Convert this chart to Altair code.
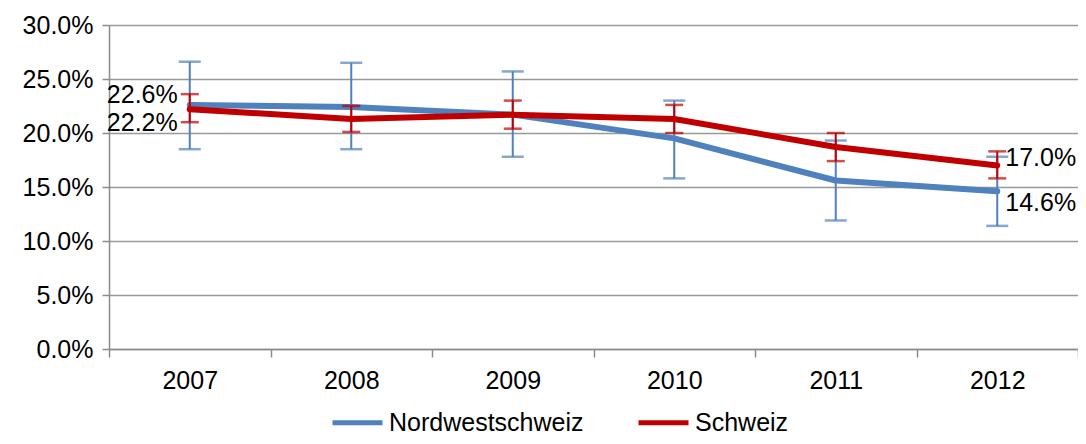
import altair as alt
import pandas as pd

years = ["2007", "2008", "2009", "2010", "2011", "2012"]
series_names = ["Nordwestschweiz", "Schweiz"]
nws_val = [22.6, 22.4, 21.7, 19.5, 15.6, 14.6]
nws_lo = [18.5, 18.5, 17.8, 15.8, 11.9, 11.4]
nws_hi = [26.6, 26.5, 25.7, 23.0, 19.3, 17.8]
ch_val = [22.2, 21.3, 21.7, 21.3, 18.7, 17.0]
ch_lo = [21.0, 20.1, 20.4, 20.0, 17.4, 15.8]
ch_hi = [23.6, 22.5, 23.0, 22.6, 20.0, 18.3]
colors = ["#4F81BD", "#C00000"]

rows = []
for name, vals, los, his in [
    (series_names[0], nws_val, nws_lo, nws_hi),
    (series_names[1], ch_val, ch_lo, ch_hi),
]:
    for y, v, lo, hi in zip(years, vals, los, his):
        rows.append({"series": name, "year": y, "value": v / 100,
                     "lo": lo / 100, "hi": hi / 100})
df = pd.DataFrame(rows)

FONT = "Liberation Sans"
FS = 25

xenc = alt.X(
    "year:O",
    bandPosition=0.5,
    scale=alt.Scale(type="band", paddingInner=0, paddingOuter=0),
    axis=alt.Axis(title=None, labelAngle=0, tickBand="extent", tickSize=8,
                  tickColor="#8c8c8c", tickWidth=1.5, domainColor="#8c8c8c",
                  domainWidth=1.5, labelFontSize=FS, labelFont=FONT,
                  labelColor="#000000", labelPadding=11, grid=False),
)
yenc = alt.Y(
    "value:Q",
    scale=alt.Scale(domain=[0, 0.3], nice=False),
    axis=alt.Axis(title=None, format=".1%", values=[0, 0.05, 0.1, 0.15, 0.2, 0.25, 0.3],
                  tickSize=7, tickColor="#8c8c8c", tickWidth=1.5,
                  domainColor="#8c8c8c", domainWidth=1.5, gridColor="#999999",
                  gridWidth=1.5, labelFontSize=FS, labelFont=FONT,
                  labelColor="#000000", labelPadding=9),
)
color_scale = alt.Scale(domain=series_names, range=colors)

layers = []
for i, name in enumerate(series_names):
    base = alt.Chart(df).transform_filter(alt.datum.series == name)
    line = base.mark_line(strokeWidth=6, strokeCap="round", strokeJoin="round").encode(
        x=xenc, y=yenc,
        color=alt.Color("series:N", scale=color_scale,
                        legend=alt.Legend(title=None) if i == 0 else None),
    )
    rule = base.mark_rule(strokeWidth=2, color=colors[i]).encode(
        x=alt.X("year:O", bandPosition=0.5), y="lo:Q", y2="hi:Q")
    cap_hi = base.mark_tick(size=22 if i == 0 else 18, thickness=2.5, color=colors[i]).encode(
        x=alt.X("year:O", bandPosition=0.5), y="hi:Q")
    cap_lo = base.mark_tick(size=22 if i == 0 else 18, thickness=2.5, color=colors[i]).encode(
        x=alt.X("year:O", bandPosition=0.5), y="lo:Q")
    layers += [line, rule, cap_hi, cap_lo]

def label(name, year, dx, dy, align):
    return alt.Chart(df).transform_filter(
        (alt.datum.series == name) & (alt.datum.year == year)
    ).mark_text(dx=dx, dy=dy, align=align, baseline="middle", fontSize=FS,
                font=FONT, color="#000000").encode(
        x=alt.X("year:O", bandPosition=0.5), y="value:Q",
        text=alt.Text("value:Q", format=".1%"))

layers += [
    label(series_names[0], "2007", -12, -10, "right"),
    label(series_names[1], "2007", -12, 14, "right"),
    label(series_names[1], "2012", 8, -7, "left"),
    label(series_names[0], "2012", 8, 12, "left"),
]

chart = alt.layer(*layers).properties(
    width=969, height=324,
    padding={"left": 101, "top": 17, "right": 0, "bottom": 87},
    autosize="none",
).configure_view(stroke=None).configure_legend(
    orient="none", legendX=221, legendY=370, direction="horizontal",
    symbolType="stroke", symbolStrokeWidth=5, symbolSize=2500,
    labelFontSize=FS, labelFont=FONT, labelColor="#000000", labelLimit=0,
    columnPadding=44, labelOffset=4, padding=0,
)

chart.save("out.html", embed_options={"renderer": "svg", "actions": False})
